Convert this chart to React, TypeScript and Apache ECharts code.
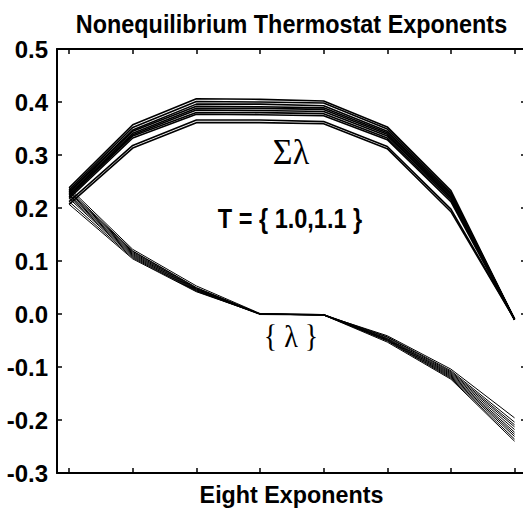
import React, { useEffect, useRef } from "react";
import * as echarts from "echarts";

// Exponent index (x positions)
const exponentIndex = [1, 2, 3, 4, 5, 6, 7, 8];

// Y axis ticks
const yMin = -0.3;
const yMax = 0.5;
const yStep = 0.1;

// Cumulative sums of exponents (Σλ), one row per run
const sumRuns: number[][] = [
  [0.238, 0.357, 0.406, 0.405, 0.402, 0.353, 0.233, -0.010],
  [0.234, 0.352, 0.401, 0.400, 0.398, 0.349, 0.229, -0.010],
  [0.231, 0.347, 0.396, 0.396, 0.393, 0.345, 0.226, -0.011],
  [0.229, 0.345, 0.392, 0.391, 0.389, 0.342, 0.224, -0.010],
  [0.226, 0.341, 0.388, 0.388, 0.386, 0.339, 0.221, -0.009],
  [0.224, 0.338, 0.385, 0.384, 0.382, 0.336, 0.219, -0.010],
  [0.221, 0.336, 0.380, 0.380, 0.378, 0.332, 0.216, -0.010],
  [0.218, 0.332, 0.377, 0.376, 0.374, 0.329, 0.212, -0.011],
  [0.212, 0.318, 0.366, 0.366, 0.363, 0.316, 0.198, -0.010],
  [0.207, 0.313, 0.361, 0.361, 0.359, 0.312, 0.193, -0.010],
];

// Individual exponents ({λ}), one row per run
const exponentRuns: number[][] = [
  [0.238, 0.122, 0.053, 0.001, -0.002, -0.041, -0.104, -0.196],
  [0.234, 0.119, 0.050, 0.000, -0.001, -0.043, -0.107, -0.204],
  [0.231, 0.118, 0.049, 0.000, -0.002, -0.044, -0.109, -0.209],
  [0.229, 0.116, 0.048, 0.000, -0.001, -0.046, -0.111, -0.213],
  [0.226, 0.114, 0.047, 0.000, -0.002, -0.047, -0.113, -0.218],
  [0.224, 0.112, 0.046, 0.000, -0.001, -0.048, -0.115, -0.223],
  [0.221, 0.110, 0.045, 0.000, -0.002, -0.049, -0.117, -0.227],
  [0.218, 0.108, 0.044, -0.001, -0.002, -0.050, -0.119, -0.231],
  [0.212, 0.106, 0.043, 0.000, -0.001, -0.051, -0.121, -0.236],
  [0.207, 0.104, 0.042, 0.000, -0.002, -0.053, -0.123, -0.240],
];

const SANS = '"Liberation Sans", Arial, Helvetica, sans-serif';
const SERIF = '"Liberation Serif", "Times New Roman", serif';

export default function App() {
  const ref = useRef<HTMLDivElement>(null);

  useEffect(() => {
    if (!ref.current) return;
    const chart = echarts.init(ref.current, null, { renderer: "svg" });

    const mkSeries = (runs: number[][], width: number, prefix: string) =>
      runs.map((vals, i) => ({
        name: `${prefix}${i + 1}`,
        type: "line",
        data: vals.map((v, j) => [exponentIndex[j], v]),
        showSymbol: false,
        symbol: "none",
        silent: true,
        lineStyle: { color: "#000", width },
        itemStyle: { color: "#000" },
        xAxisIndex: 0,
        yAxisIndex: 0,
      }));

    const xCommon = {
      type: "value",
      min: 0.81,
      max: 8.18,
      axisLine: { show: true, onZero: false, lineStyle: { color: "#000", width: 2 } },
      axisTick: {
        show: true,
        inside: true,
        length: 5,
        customValues: exponentIndex,
        lineStyle: { color: "#000", width: 1.5 },
      },
      axisLabel: { show: false },
      splitLine: { show: false },
    };

    const yCommon = {
      type: "value",
      min: yMin,
      max: yMax,
      interval: yStep,
      axisLine: { show: true, onZero: false, lineStyle: { color: "#000", width: 2 } },
      axisTick: { show: true, inside: true, length: 5, lineStyle: { color: "#000", width: 1.5 } },
      splitLine: { show: false },
    };

    chart.setOption({
      animation: false,
      backgroundColor: "#fff",
      grid: {
        left: 57,
        top: 49,
        width: 469,
        height: 424,
        containLabel: false,
        outerBoundsMode: "none",
      },
      xAxis: [
        {
          ...xCommon,
          position: "bottom",
          name: "Eight Exponents",
          nameLocation: "middle",
          nameGap: 10,
          nameTextStyle: {
            fontFamily: SANS,
            fontWeight: "bold",
            fontSize: 23.3,
            color: "#000",
            verticalAlign: "top",
          },
        },
        { ...xCommon, position: "top" },
      ],
      yAxis: [
        {
          ...yCommon,
          position: "left",
          axisLabel: {
            show: true,
            margin: 9,
            fontFamily: SANS,
            fontWeight: "bold",
            fontSize: 24,
            color: "#000",
            formatter: (v: number) => (Math.abs(v) < 1e-9 ? 0 : v).toFixed(1),
          },
        },
        { ...yCommon, position: "right", axisLabel: { show: false } },
      ],
      graphic: [
        {
          type: "text",
          x: 291.5,
          y: 24.3,
          scaleX: 0.975,
          scaleY: 1.07,
          style: {
            text: "Nonequilibrium Thermostat Exponents",
            fontFamily: SANS,
            fontWeight: "bold",
            fontSize: 24,
            fill: "#000",
            align: "center",
            verticalAlign: "middle",
          },
        },
        {
          type: "text",
          x: 291,
          y: 152,
          scaleY: 1.05,
          style: {
            text: "Σλ",
            fontFamily: SERIF,
            fontSize: 34,
            fill: "#000",
            align: "center",
            verticalAlign: "middle",
          },
        },
        {
          type: "text",
          x: 290,
          y: 218,
          scaleX: 0.98,
          scaleY: 1.17,
          style: {
            text: "T = { 1.0,1.1 }",
            fontFamily: SANS,
            fontWeight: "bold",
            fontSize: 24,
            fill: "#000",
            align: "center",
            verticalAlign: "middle",
          },
        },
        {
          type: "text",
          x: 291,
          y: 336,
          scaleY: 1.15,
          style: {
            text: "{ λ }",
            fontFamily: SERIF,
            fontSize: 28,
            fill: "#000",
            align: "center",
            verticalAlign: "middle",
          },
        },
      ],
      series: [
        ...mkSeries(sumRuns, 1.6, "sum"),
        ...mkSeries(exponentRuns, 1, "exp"),
      ],
    });

    return () => chart.dispose();
  }, []);

  return (
    <div
      ref={ref}
      style={{ position: "fixed", left: 0, top: 0, width: 523, height: 510, background: "#fff" }}
    />
  );
}
